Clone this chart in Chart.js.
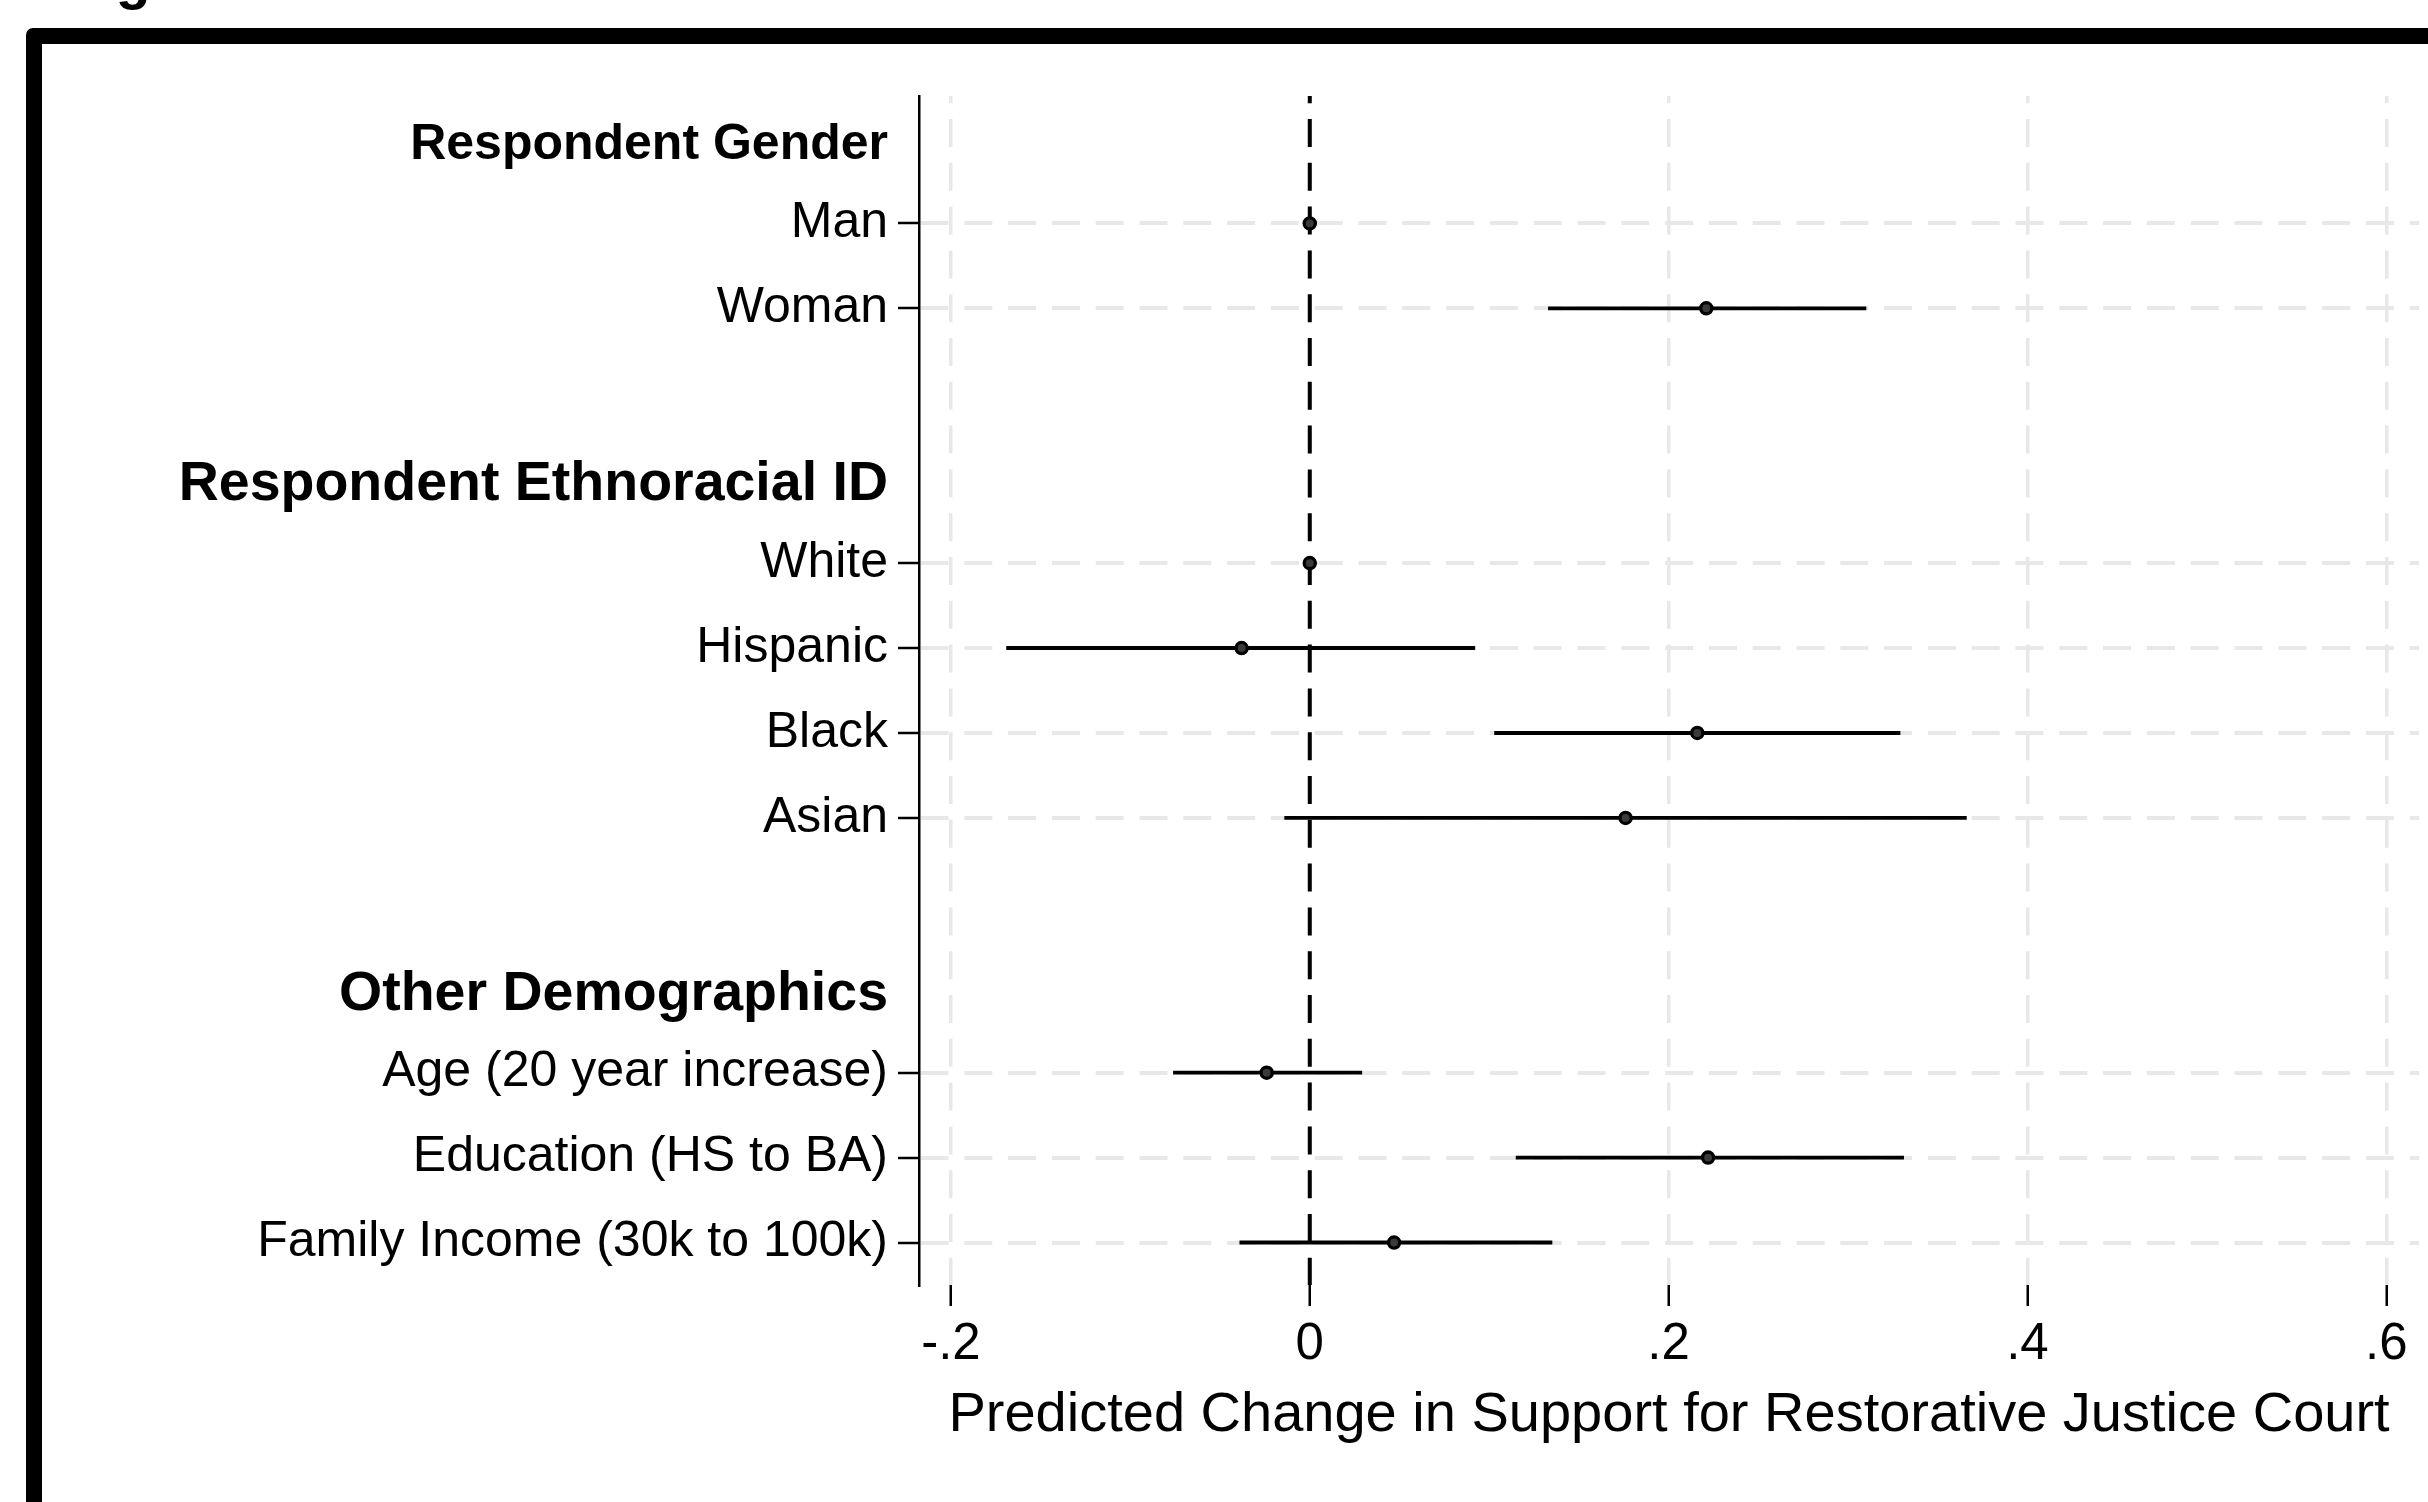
<!DOCTYPE html>
<html>
<head>
<meta charset="utf-8">
<title>Predicted Change in Support for Restorative Justice Court</title>
<script src="https://cdn.jsdelivr.net/npm/chart.js@4.4.1/dist/chart.umd.min.js"></script>
<style>
  html, body { margin: 0; padding: 0; background: #ffffff; }
  canvas { display: block; }
</style>
</head>
<body>
<canvas id="chart" width="2428" height="1502"></canvas>
<script>
// ---- data ---------------------------------------------------------------
const headings    = ['Respondent Gender', 'Respondent Ethnoracial ID', 'Other Demographics'];
const headingRows = [0, 4, 10];

const categories   = ['Man', 'Woman', 'White', 'Hispanic', 'Black', 'Asian',
                      'Age (20 year increase)', 'Education (HS to BA)', 'Family Income (30k to 100k)'];
const categoryRows = [1, 2, 5, 6, 7, 8, 11, 12, 13];

// point estimates and 95% confidence bounds (reference categories have no interval)
const estimates = [0, 0.221, 0, -0.038, 0.216, 0.176, -0.024, 0.222, 0.047];
const ciLow     = [null, 0.133, null, -0.169, 0.103, -0.014, -0.076, 0.115, -0.039];
const ciHigh    = [null, 0.310, null, 0.092, 0.329, 0.366, 0.029, 0.331, 0.135];

const xTickValues = [-0.2, 0, 0.2, 0.4, 0.6];
const xTickLabels = ['-.2', '0', '.2', '.4', '.6'];

const referenceValue = 0;
const axisTitle = 'Predicted Change in Support for Restorative Justice Court';
const figureLabel = 'Figure';

// ---- lookups built from the arrays ---------------------------------------
const rowText = {};
const rowIsHeading = {};
headingRows.forEach((r, i) => { rowText[r] = headings[i]; rowIsHeading[r] = i; });
categoryRows.forEach((r, i) => { rowText[r] = categories[i]; });

const Y_MIN = -0.5, Y_MAX = 13.5;
const X_MIN = -0.2178, X_MAX = 0.6183;

// ---- styling --------------------------------------------------------------
const FONT = '"Liberation Sans", Arial, Helvetica, sans-serif';
Chart.defaults.font.family = FONT;
Chart.defaults.color = '#000000';
const headingFontSizes = [50, 55.5, 55.5];
const HEADING_NUDGE = 0.08;   // group headings sit a little below their row centre
const GRID = '#e8e8e8';
const CLEAR = 'rgba(0,0,0,0)';
const DASH = [28, 15.8];

// y ticks: group headings (nudged) and category rows
const yTicks = headingRows.map(r => ({ value: r + HEADING_NUDGE, row: r }))
  .concat(categoryRows.map(r => ({ value: r, row: r })))
  .sort((a, b) => a.value - b.value);
const rowOfTick = (v) => Math.round(v - (Math.abs(v - Math.round(v)) > 1e-6 ? HEADING_NUDGE : 0));
const isHeadingTick = (ctx) => ctx.tick && rowIsHeading[rowOfTick(ctx.tick.value)] !== undefined
  && Math.abs(ctx.tick.value - Math.round(ctx.tick.value)) > 1e-6;

// black outer frame with a rounded corner, plus the caption above it
const framePlugin = {
  id: 'frame',
  beforeDraw(chart) {
    const ctx = chart.ctx;
    ctx.save();
    ctx.fillStyle = '#ffffff';
    ctx.fillRect(0, 0, chart.width, chart.height);
    ctx.fillStyle = '#000000';
    ctx.beginPath();
    ctx.roundRect(26, 28, chart.width + 200, chart.height + 200, 7);
    ctx.fill();
    ctx.fillStyle = '#ffffff';
    ctx.fillRect(42, 44, chart.width + 200, chart.height + 200);
    ctx.fillStyle = '#000000';
    ctx.font = 'bold 57px ' + FONT;
    ctx.textBaseline = 'alphabetic';
    ctx.textAlign = 'left';
    ctx.fillText(figureLabel, 65, -2);
    ctx.restore();
  }
};

const pointData = categories.map((c, i) => ({ x: estimates[i], y: categoryRows[i] }));
const intervalData = categories
  .map((c, i) => (ciLow[i] === null ? null : { y: categoryRows[i], x: [ciLow[i], ciHigh[i]] }))
  .filter(Boolean);
const referenceData = [{ x: referenceValue, y: Y_MIN }, { x: referenceValue, y: Y_MAX }];

new Chart(document.getElementById('chart'), {
  type: 'scatter',
  data: {
    datasets: [
      {
        type: 'line',
        data: referenceData,
        borderColor: '#000000',
        borderWidth: 4,
        borderDash: DASH,
        borderDashOffset: 20.8,
        pointRadius: 0,
        order: 3
      },
      {
        type: 'bar',
        indexAxis: 'y',
        data: intervalData,
        backgroundColor: '#000000',
        borderWidth: 0,
        barThickness: 3.2,
        order: 2
      },
      {
        type: 'scatter',
        data: pointData,
        pointStyle: 'circle',
        pointRadius: 5.6,
        borderWidth: 3.3,
        borderColor: '#000000',
        backgroundColor: '#3a3a3a',
        order: 1
      }
    ]
  },
  options: {
    responsive: false,
    devicePixelRatio: 1,
    animation: false,
    events: [],
    layout: { padding: { left: 0, top: 96, right: 4, bottom: 0 } },
    plugins: { legend: { display: false }, tooltip: { enabled: false } },
    scales: {
      x: {
        type: 'linear',
        position: 'bottom',
        offset: false,
        min: X_MIN,
        max: X_MAX,
        afterBuildTicks: (scale) => { scale.ticks = xTickValues.map(v => ({ value: v })); },
        afterFit: (scale) => { scale.height = 217; },
        ticks: {
          autoSkip: false,
          padding: 8,
          font: { size: 51 },
          color: '#000000',
          callback: (value) => {
            const k = xTickValues.findIndex(v => Math.abs(v - value) < 1e-9);
            return k >= 0 ? xTickLabels[k] : '';
          }
        },
        grid: {
          offset: false,
          color: GRID,
          lineWidth: 3.5,
          drawTicks: true,
          tickLength: 21,
          tickWidth: 2.5,
          tickColor: '#000000'
        },
        border: { display: false, dash: DASH, dashOffset: 20.8 },
        title: {
          display: true,
          text: axisTitle,
          font: { size: 56 },
          color: '#000000',
          padding: { top: 0, bottom: 53 }
        }
      },
      y: {
        type: 'linear',
        position: 'left',
        offset: false,
        reverse: true,
        min: Y_MIN,
        max: Y_MAX,
        afterBuildTicks: (scale) => { scale.ticks = yTicks.map(t => ({ value: t.value })); },
        afterFit: (scale) => { scale.width = 919; },
        ticks: {
          autoSkip: false,
          padding: 10,
          color: '#000000',
          font: (ctx) => {
            if (isHeadingTick(ctx)) {
              return { size: headingFontSizes[rowIsHeading[rowOfTick(ctx.tick.value)]], weight: 'bold' };
            }
            return { size: 50 };
          },
          callback: (value) => rowText[rowOfTick(value)] || ''
        },
        grid: {
          offset: false,
          color: (ctx) => (isHeadingTick(ctx) ? CLEAR : GRID),
          lineWidth: 4,
          drawTicks: true,
          tickLength: 21,
          tickWidth: 2.5,
          tickColor: (ctx) => (isHeadingTick(ctx) ? CLEAR : '#000000')
        },
        border: { display: true, color: '#000000', width: 2.5, dash: DASH, dashOffset: 0 }
      }
    }
  },
  plugins: [framePlugin]
});
</script>
</body>
</html>
